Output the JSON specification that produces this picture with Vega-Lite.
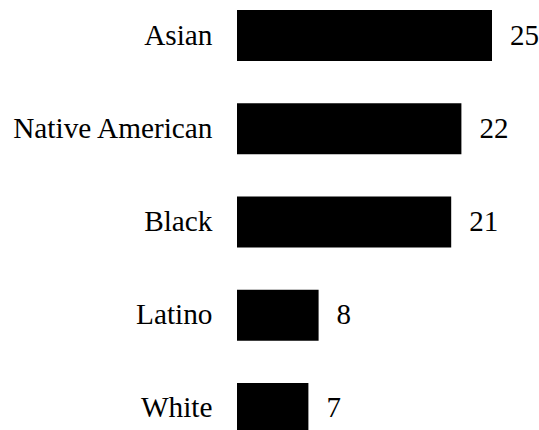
{
  "$schema": "https://vega.github.io/schema/vega-lite/v6.json",
  "width": 302,
  "height": 430,
  "autosize": {"type": "none"},
  "padding": {"left": 237, "top": 0, "right": 0, "bottom": 0},
  "background": "white",
  "config": {"view": {"stroke": null}, "font": "Liberation Serif"},
  "data": {"values": [
    {"group": "Asian", "value": 25},
    {"group": "Native American", "value": 22},
    {"group": "Black", "value": 21},
    {"group": "Latino", "value": 8},
    {"group": "White", "value": 7}
  ]},
  "encoding": {
    "y": {
      "field": "group", "type": "nominal", "sort": null,
      "scale": {"range": [-11, 455], "paddingInner": 0.453, "paddingOuter": 0.2265},
      "axis": {"title": null, "domain": false, "ticks": false, "tickSize": 0, "labelPadding": 25,
               "labelFont": "Liberation Serif", "labelFontSize": 29.3, "labelColor": "black",
               "labelBaseline": "middle", "labelLimit": 0}
    },
    "x": {
      "field": "value", "type": "quantitative",
      "scale": {"domain": [0, 25], "range": [0, 255], "nice": false},
      "axis": null
    }
  },
  "layer": [
    {"mark": {"type": "bar", "color": "black"}},
    {"mark": {"type": "text", "align": "left", "baseline": "middle", "dx": 18,
              "font": "Liberation Serif", "fontSize": 29, "color": "black"},
     "encoding": {"text": {"field": "value", "type": "quantitative"}}}
  ]
}
